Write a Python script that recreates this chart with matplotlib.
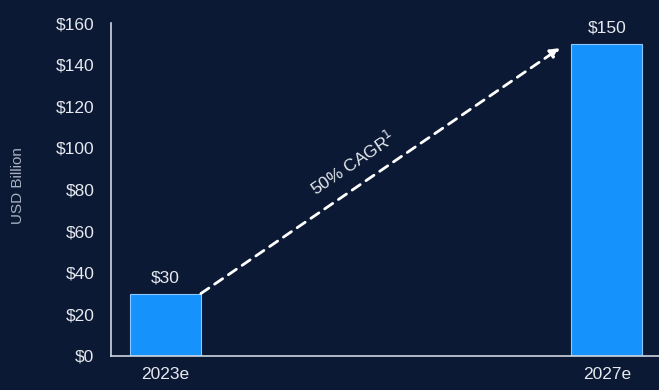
import matplotlib.pyplot as plt

# chart data
years = ['2023e', '2027e']
market = [30, 150]
value_labels = ['$30', '$150']
y_ticks = [0, 20, 40, 60, 80, 100, 120, 140, 160]

bg = '#0b1934'
bar_col = '#1592fb'
txt = '#e6e9ef'

plt.rcParams['font.family'] = ['Liberation Sans', 'DejaVu Sans']

fig = plt.figure(figsize=(6.59, 3.90), dpi=100, facecolor=bg)
ax = fig.add_axes([0.1684, 0.0872, 0.8316, 0.8538], facecolor=bg)

x = [0, 1]
w = 0.161
ax.bar(x, market, width=w, color=bar_col, edgecolor='#8cc8ff', linewidth=0.8)

for xi, v, lab in zip(x, market, value_labels):
    ax.text(xi, v + 4, lab, ha='center', va='bottom', color=txt, fontsize=12.5)

# dashed CAGR arrow from top of first bar towards second bar
ax.annotate('', xy=(0.894, 148), xytext=(w / 2, market[0]),
            arrowprops=dict(arrowstyle='-|>', color='white', lw=2,
                            linestyle=(0, (3.5, 2.5)), mutation_scale=14,
                            shrinkA=0, shrinkB=0))
ax.text(0.425, 93, '50% CAGR$^1$', rotation=34, color=txt, fontsize=12.5,
        ha='center', va='center', rotation_mode='anchor')

ax.set_xlim(-0.123, 1.118)
ax.set_ylim(0, 160)
ax.set_yticks(y_ticks)
ax.set_yticklabels(['$' + str(t) for t in y_ticks])
ax.set_xticks(x)
ax.set_xticklabels(years)
ax.tick_params(colors=txt, labelsize=12.5, length=0)
ax.tick_params(axis='y', pad=12)
ax.tick_params(axis='x', pad=8)
for s in ['top', 'right']:
    ax.spines[s].set_visible(False)
for s in ['left', 'bottom']:
    ax.spines[s].set_color('#d0d6e0')
    ax.spines[s].set_linewidth(1.2)

fig.text(0.027, 0.525, 'USD Billion', rotation=90, color='#a9b1bf',
         fontsize=11, ha='center', va='center')

fig.savefig('out.png', dpi=100, facecolor=bg)
